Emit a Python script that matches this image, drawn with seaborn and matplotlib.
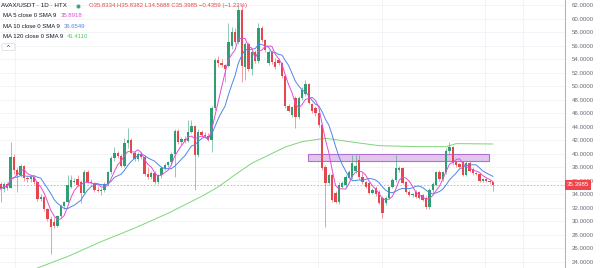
import numpy as np
import pandas as pd
import matplotlib
matplotlib.use("Agg")
import matplotlib.pyplot as plt
import matplotlib.transforms as mtransforms
from matplotlib.patches import Rectangle, FancyBboxPatch
from matplotlib.lines import Line2D
import seaborn as sns

# ---------------- data ----------------
opens = [35.6, 34.8, 35.5, 35.0, 39.5, 37.6, 36.9, 38.2, 36.4, 36.2,
         36.5, 35.8, 33.3, 33.6, 31.8, 30.3, 29.9, 29.3, 30.8, 32.3,
         32.9, 35.1, 35.9, 36.3, 35.9, 34.2, 37.3, 35.9, 35.7, 34.7,
         34.5, 34.7, 35.6, 37.3, 39.4, 40.1, 39.6, 38.2, 41.6, 42.1,
         40.1, 39.2, 40.0, 39.5, 37.0, 36.5, 37.2, 35.9, 36.8, 37.9,
         38.3, 38.8, 40.0, 43.4, 41.7, 42.2, 41.9, 43.2, 44.1, 39.8,
         43.2, 42.8, 42.6, 42.1, 46.8, 53.9, 53.4, 53.1, 53.0, 56.0,
         58.0, 56.6, 61.3, 52.9, 56.3, 52.5, 55.0, 53.7, 58.6, 56.8,
         53.4, 55.1, 53.6, 53.9, 53.4, 51.5, 47.0, 45.8, 48.2, 45.4,
         48.2, 48.8, 50.3, 47.3, 46.8, 46.0, 44.3, 38.0, 35.7, 36.9,
         34.2, 32.9, 35.1, 35.4, 36.4, 36.6, 37.5, 39.1, 36.6, 35.8,
         35.7, 34.2, 35.0, 34.4, 33.5, 32.7, 33.5, 35.1, 36.1, 37.6,
         37.9, 35.8, 34.4, 33.9, 34.4, 34.3, 33.9, 33.5, 32.1, 34.6,
         35.4, 37.3, 36.3, 37.3, 40.4, 41.0, 38.8, 38.5, 38.8, 36.9,
         38.6, 37.8, 37.1, 37.0, 36.0, 36.2, 36.0, 35.8334]
highs = [35.9, 35.8, 35.9, 41.7, 39.9, 38.0, 38.5, 38.4, 36.7, 36.8,
         36.7, 36.0, 34.0, 33.8, 32.0, 30.8, 30.6, 30.9, 32.6, 33.0,
         36.9, 36.9, 36.4, 36.9, 36.1, 37.6, 37.6, 36.3, 35.9, 35.2,
         34.9, 35.8, 37.5, 39.6, 41.0, 40.4, 40.0, 42.3, 43.8, 42.4,
         40.4, 40.3, 40.3, 39.8, 38.1, 37.5, 37.4, 37.0, 38.2, 38.6,
         39.0, 40.3, 43.7, 43.6, 42.5, 42.6, 45.0, 45.0, 44.3, 43.6,
         43.5, 43.2, 43.0, 47.0, 54.2, 54.4, 54.0, 53.3, 59.3, 58.8,
         58.6, 62.0, 62.0, 56.6, 56.5, 55.3, 55.3, 59.3, 58.9, 57.0,
         55.4, 55.3, 54.2, 54.1, 53.6, 51.7, 47.4, 47.1, 48.5, 48.6,
         49.9, 50.9, 50.5, 47.5, 47.0, 46.1, 44.6, 38.4, 37.2, 37.1,
         34.5, 35.8, 36.0, 36.9, 37.6, 39.8, 39.8, 39.8, 37.3, 36.0,
         35.9, 35.0, 35.3, 34.6, 33.7, 33.7, 35.3, 36.4, 39.8, 38.2,
         38.1, 36.0, 34.6, 34.2, 34.7, 34.5, 34.1, 33.7, 35.0, 35.9,
         37.5, 37.6, 37.5, 40.8, 41.7, 41.2, 39.0, 38.7, 39.0, 38.9,
         38.9, 38.0, 37.3, 37.2, 36.4, 36.4, 36.1, 35.8382]
lows = [32.8, 34.4, 34.6, 34.9, 37.0, 34.3, 36.6, 36.0, 35.8, 35.9,
        35.6, 33.0, 33.0, 31.5, 30.0, 25.2, 29.0, 29.1, 30.5, 31.9,
        32.7, 34.9, 35.7, 35.2, 32.7, 34.0, 35.7, 35.5, 34.4, 34.3,
        33.9, 34.3, 35.3, 37.0, 39.0, 39.4, 38.0, 38.0, 40.9, 39.9,
        38.9, 38.9, 39.3, 36.7, 36.2, 36.3, 35.6, 35.5, 36.4, 37.6,
        38.0, 38.4, 36.6, 41.4, 41.3, 41.6, 41.7, 43.0, 34.6, 39.5,
        42.5, 42.3, 41.9, 40.3, 46.5, 52.9, 52.8, 50.6, 52.8, 55.5,
        56.3, 56.3, 50.6, 50.9, 52.3, 51.6, 53.4, 53.4, 56.5, 55.1,
        53.2, 53.3, 52.6, 53.2, 51.2, 46.7, 46.2, 45.5, 43.8, 45.2,
        47.9, 48.6, 47.3, 46.0, 45.6, 44.0, 37.6, 29.2, 35.4, 32.8,
        32.7, 32.6, 34.9, 35.0, 36.2, 36.3, 37.2, 36.2, 35.5, 34.9,
        34.0, 34.0, 33.7, 32.5, 30.5, 32.4, 33.3, 34.9, 35.8, 37.3,
        35.5, 34.2, 33.7, 33.6, 33.4, 33.3, 33.0, 31.8, 31.9, 34.2,
        35.2, 36.0, 36.0, 37.0, 40.0, 38.4, 38.1, 37.9, 36.7, 36.7,
        37.3, 36.9, 36.8, 35.8, 35.8, 35.8, 35.5, 34.5688]
closes = [34.8, 35.5, 35.0, 39.5, 37.6, 36.9, 38.2, 36.4, 36.2, 36.5,
          35.8, 33.3, 33.6, 31.8, 30.3, 29.1, 29.3, 30.8, 32.3, 32.9,
          35.4, 36.1, 36.0, 35.4, 34.2, 37.3, 35.9, 35.7, 34.7, 34.5,
          34.7, 35.6, 37.3, 39.4, 40.1, 39.6, 38.2, 41.6, 42.1, 40.1,
          39.2, 40.0, 39.5, 37.0, 36.5, 37.2, 35.9, 36.8, 37.9, 38.3,
          38.8, 40.0, 43.4, 41.7, 42.2, 41.9, 43.2, 44.1, 39.8, 43.2,
          42.8, 42.6, 42.1, 46.8, 53.9, 53.4, 53.1, 52.5, 56.5, 58.0,
          56.6, 61.3, 53.0, 56.3, 52.5, 55.0, 53.7, 58.6, 56.8, 55.4,
          55.1, 53.6, 52.8, 53.4, 51.5, 47.0, 46.4, 46.9, 45.4, 48.2,
          49.4, 50.3, 47.5, 46.3, 46.0, 44.3, 37.9, 35.7, 36.9, 33.2,
          32.9, 35.4, 35.7, 36.6, 37.3, 38.6, 38.2, 36.6, 35.8, 35.1,
          34.2, 34.7, 34.0, 32.7, 31.2, 33.5, 35.1, 36.1, 37.9, 37.9,
          35.7, 34.4, 33.9, 34.0, 33.6, 33.5, 33.2, 32.1, 34.6, 35.6,
          37.3, 36.3, 37.3, 40.4, 41.0, 38.6, 38.3, 38.1, 36.9, 38.6,
          37.5, 37.1, 37.0, 36.0, 36.2, 36.0, 35.83, 35.3985]

ma120_idx = [10, 12, 20, 30, 40, 50, 60, 65, 70, 75, 80, 85, 90, 97,
             104, 113, 125, 133, 136, 147]
ma120_val = [22.9, 23.3, 24.8, 27.0, 29.0, 31.2, 33.7, 35.1, 36.9, 38.6,
             39.8, 41.0, 41.8, 42.3, 41.8, 41.2, 41.05, 41.05, 41.5, 41.45]

zone_start, zone_end = 91.8, 145.8
zone_low, zone_high = 38.93, 39.92

last_price = 35.3985
yticks = list(range(24, 63, 2))
header_left = "AVAX/USDT · 1D · HTX"
header_ohlc = "O35.8334 H35.8382 L34.5688 C35.3985 −0.4359 (−1.22%)"
ma_names = ["MA 5 close 0 SMA 9", "MA 10 close 0 SMA 9", "MA 120 close 0 SMA 9"]
ma_values = ["35.8918", "36.6549", "41.4110"]

# ---------------- style ----------------
sns.set_theme(style="white")
plt.rcParams["font.family"] = ["Liberation Sans", "DejaVu Sans"]

UP = "#2f9e73"
DOWN = "#e5474d"
C_MA5 = "#e04fd6"
C_MA10 = "#4f86e8"
C_MA120 = "#7ed67a"
TXT = "#131722"
GRAY = "#6a6d78"
FS = 4.3

W, H = 600, 268
fig = plt.figure(figsize=(W / 100, H / 100), dpi=100)
ax = fig.add_axes([0, 0, 565 / W, 1])
ax.set_facecolor("white")

n = len(closes)
df = pd.DataFrame({"i": np.arange(n), "open": opens, "high": highs,
                   "low": lows, "close": closes})
df["ma5"] = df["close"].rolling(5, min_periods=1).mean()
df["ma10"] = df["close"].rolling(10, min_periods=1).mean()
up = df["close"] >= df["open"]
cols = np.where(up, UP, DOWN)

# grid
for y in yticks:
    ax.axhline(y, color="#f0f2f6", lw=0.6, zorder=0)
for xv in [15, 318, 382, 485, 523]:
    ax.axvline((xv - 0.55) / 3.35, color="#f0f2f6", lw=0.6, zorder=0)

# zone rectangle
ax.add_patch(Rectangle((zone_start, zone_low), zone_end - zone_start,
                       zone_high - zone_low, facecolor="#e3c6ee",
                       edgecolor="#b070d0", lw=0.8, zorder=1))

# MA lines
sns.lineplot(data=pd.DataFrame({"i": ma120_idx, "v": ma120_val}), x="i", y="v",
             ax=ax, color=C_MA120, lw=0.7, estimator=None, zorder=2)
sns.lineplot(data=df, x="i", y="ma10", ax=ax, color=C_MA10, lw=0.7,
             estimator=None, zorder=4)
sns.lineplot(data=df, x="i", y="ma5", ax=ax, color=C_MA5, lw=0.7,
             estimator=None, zorder=4)

# candles
ax.vlines(df["i"], df["low"], df["high"], colors=cols, lw=0.5, alpha=0.75, zorder=3)
body_lo = np.minimum(df["open"], df["close"])
body_h = np.maximum(np.abs(df["close"] - df["open"]), 0.12)
ax.bar(df["i"], body_h, bottom=body_lo, width=0.7, color=cols, lw=0, zorder=3)

# last price line
ax.axhline(last_price, color=DOWN, lw=0.6, ls=(0, (2, 2)), alpha=0.55, zorder=2)

ax.set_xlim(-0.164, 168.5)
ax.set_ylim(23.11, 62.74)
ax.set_xlabel("")
ax.set_ylabel("")
ax.set_xticks([])
ax.yaxis.tick_right()
ax.set_yticks(yticks)
ax.set_yticklabels([f"{v:.4f}" for v in yticks], fontsize=4.4, color=GRAY)
ax.tick_params(axis="y", length=0, pad=5)
for s in ["top", "left", "bottom"]:
    ax.spines[s].set_visible(False)
ax.spines["right"].set_color("#b2b5be")
ax.spines["right"].set_linewidth(0.8)

# last price label
trans = mtransforms.blended_transform_factory(ax.transAxes, ax.transData)
ax.text(1.003, last_price, f"{last_price:.4f}", transform=trans, fontsize=4.4,
        color="white", va="center", ha="left", clip_on=False,
        bbox=dict(boxstyle="square,pad=0.35", fc="#f0444a", ec="none"))


# header
def fx(x):
    return x / W


def fy(y):
    return 1 - y / H


fig.text(fx(1), fy(5.7), header_left, fontsize=FS + 0.2, color=TXT, va="center", ha="left")
fig.add_artist(Line2D([fx(78)], [fy(5.7)], marker="o", ms=3.0, mfc="#2f9e73",
                      mec="#bfe3d3", mew=0.6, transform=fig.transFigure))
fig.text(fx(89), fy(5.7), header_ohlc, fontsize=FS, color=DOWN, va="center", ha="left")

rows_y = [15.3, 26.3, 36.7]
val_c = [C_MA5, C_MA10, "#55c95a"]
fig.canvas.draw()
renderer = fig.canvas.get_renderer()
for name, val, yy, vc in zip(ma_names, ma_values, rows_y, val_c):
    t = fig.text(fx(3), fy(yy), name, fontsize=FS, color=TXT, va="center", ha="left")
    bb = t.get_window_extent(renderer)
    fig.text(fx(bb.x1 + 4), fy(yy), val, fontsize=FS, color=vc, va="center", ha="left")

fig.patches.append(FancyBboxPatch((fx(2), fy(50.5)), fx(13), 7.0 / H,
                                  boxstyle="round,pad=0,rounding_size=0.004",
                                  transform=fig.transFigure, fc="white",
                                  ec="#d6d8de", lw=0.5, figure=fig))
fig.text(fx(8.5), fy(47.5), "^", fontsize=4.5, color=TXT, va="center", ha="center")

fig.savefig("out.png", dpi=100)
